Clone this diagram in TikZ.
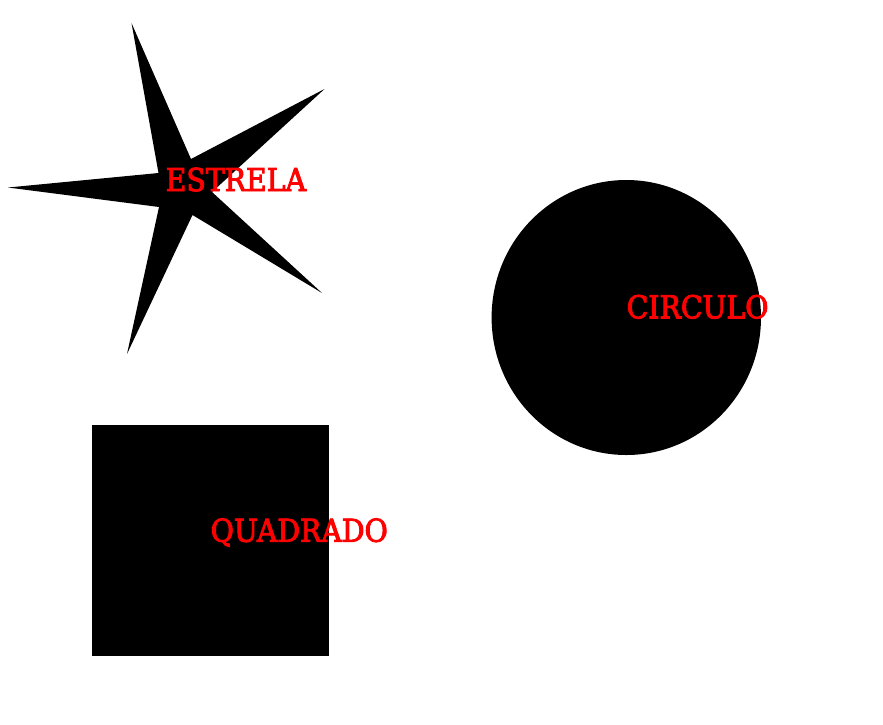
\documentclass[tikz,border=0pt]{standalone}
\usepackage{fontspec}
\newfontfamily\lblfont[FakeBold=3]{DejaVu Serif Condensed}
\begin{document}
\begin{tikzpicture}[x=1pt,y=-1pt,
  shapefill/.style={fill=black,draw=none},
  lbl/.style={text=red,font=\fontsize{31.5}{31.5}\selectfont\lblfont,inner sep=0pt,anchor=base west}]
\useasboundingbox (0,0) rectangle (883,724);
% star
\fill[shapefill] (131.5,23) -- (191,159) -- (324.5,89) -- (212,192) -- (322,293) -- (192.5,215) -- (127,354) -- (159,207) -- (8,187.5) -- (158.5,173) -- cycle;
% circle
\fill[shapefill] (626.3,317.5) ellipse [x radius=134.7, y radius=137.5];
% square
\fill[shapefill] (92,424.5) rectangle (329.3,655.5);
% labels
\node[lbl] (estrela) at (165.5,191) {ESTRELA};
\node[lbl] (circulo) at (626.5,318.3) {CIRCULO};
\node[lbl] (quadrado) at (210.5,541.7) {QUADRADO};
\end{tikzpicture}
\end{document}
